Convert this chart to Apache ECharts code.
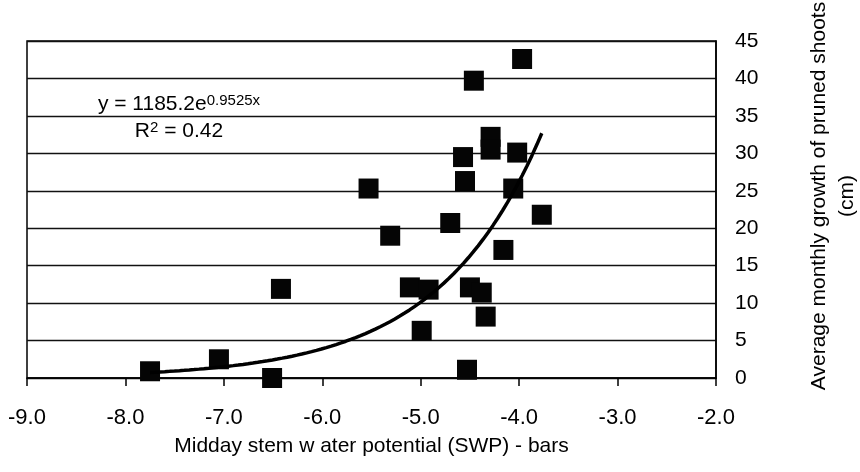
<!DOCTYPE html>
<html>
<head>
<meta charset="utf-8">
<script src="https://cdn.jsdelivr.net/npm/echarts@6/dist/echarts.min.js"></script>
<style>
html, body { margin: 0; background: #fff; }
#main { width: 860px; height: 472px; }
</style>
</head>
<body>
<div id="main"></div>
<script>
// midday stem water potential (bars) vs average monthly growth of pruned shoots (cm)
var swp = [-7.75, -7.05, -6.51, -6.42, -5.53, -5.31, -5.11, -4.99, -4.92, -4.70, -4.57, -4.55,
	-4.53, -4.50, -4.46, -4.38, -4.34, -4.29, -4.29, -4.16, -4.06, -4.02, -3.97, -3.77];
var growth = [0.9, 2.5, 0.0, 11.9, 25.3, 19.0, 12.1, 6.3, 11.8, 20.7, 29.5, 26.3,
	1.1, 12.1, 39.7, 11.4, 8.2, 32.2, 30.5, 17.1, 25.3, 30.1, 42.6, 21.8];

var xTicks = [-9, -8, -7, -6, -5, -4, -3, -2];
var yTicks = [0, 5, 10, 15, 20, 25, 30, 35, 40, 45];

// trendline as printed on the chart: y = 1185.2e^(0.9525x), R2 = 0.42
var trendA = 1185.2;
var trendB = 0.9525;

var fontFam = '"Liberation Sans", Arial, sans-serif';

var points = swp.map(function(x, i) {
	return [x, growth[i]];
});

var xLo = Math.min.apply(null, swp);
var xHi = Math.max.apply(null, swp);
var trend = [];
for (var k = 0; k <= 80; k++) {
	var tx = xLo + (xHi - xLo) * k / 80;
	trend.push([tx, trendA * Math.exp(trendB * tx)]);
}

var myChart = echarts.init(document.getElementById('main'));
myChart.setOption({
	animation: false,
	backgroundColor: '#fff',
	grid: {
		left: 27,
		right: 144,
		top: 41,
		bottom: 94,
		show: true,
		borderColor: '#000',
		borderWidth: 1.5
	},
	xAxis: {
		type: 'value',
		min: xTicks[0],
		max: xTicks[xTicks.length - 1],
		interval: 1,
		name: 'Midday stem w ater potential (SWP) - bars',
		nameLocation: 'middle',
		nameGap: 58,
		nameTextStyle: { color: '#000', fontSize: 21, fontFamily: fontFam },
		axisLine: { show: true, onZero: false, lineStyle: { color: '#000', width: 1.5 } },
		axisTick: { show: true, length: 8, lineStyle: { color: '#000', width: 1.5 } },
		axisLabel: {
			color: '#000', fontSize: 22, fontFamily: fontFam, margin: 29,
			formatter: function(v) { return v.toFixed(1); }
		},
		splitLine: { show: false }
	},
	yAxis: {
		type: 'value',
		position: 'right',
		min: yTicks[0],
		max: yTicks[yTicks.length - 1],
		interval: 5,
		axisLine: { show: true, lineStyle: { color: '#000', width: 1.5 } },
		axisTick: { show: false },
		axisLabel: { color: '#000', fontSize: 21, fontFamily: fontFam, margin: 19, padding: [0, 0, 10, 0] },
		splitLine: { show: true, lineStyle: { color: '#111', width: 1.3 } }
	},
	graphic: [{
		type: 'text',
		x: 833,
		y: 196,
		rotation: Math.PI / 2,
		style: {
			text: 'Average monthly growth of pruned shoots\n(cm)',
			font: '21px ' + fontFam,
			fill: '#000',
			align: 'center',
			verticalAlign: 'middle',
			lineHeight: 28
		}
	}, {
		type: 'text',
		x: 179,
		y: 118,
		z: 10,
		style: {
			text: '{m|y = 1185.2e}{s|0.9525x}\n{m|R}{s|2}{m| = 0.42}',
			fill: '#000',
			align: 'center',
			verticalAlign: 'middle',
			rich: {
				m: { fontSize: 21, fontFamily: fontFam, lineHeight: 27, fill: '#000' },
				s: { fontSize: 15, fontFamily: fontFam, lineHeight: 15, verticalAlign: 'top', padding: [2, 0, 0, 0], fill: '#000' }
			}
		}
	}],
	series: [{
		type: 'scatter',
		data: points,
		symbol: 'rect',
		symbolSize: 20,
		itemStyle: { color: '#050505', opacity: 1 },
		z: 2
	}, {
		type: 'line',
		data: trend,
		showSymbol: false,
		smooth: false,
		lineStyle: { color: '#000', width: 3.5 },
		z: 3
	}]
});
</script>
</body>
</html>
